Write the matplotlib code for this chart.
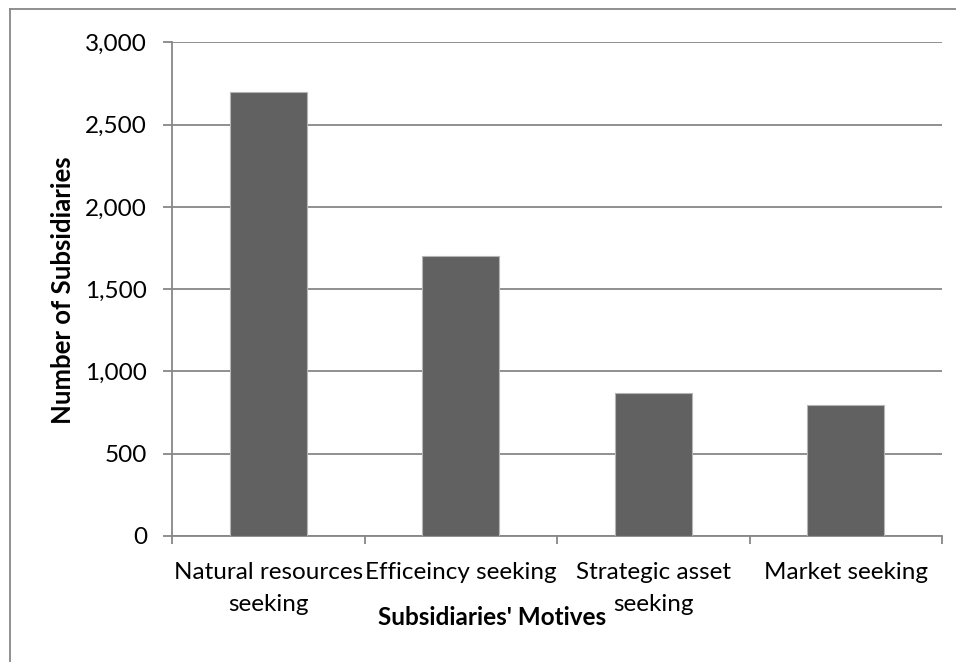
import matplotlib
matplotlib.use("Agg")
import matplotlib.pyplot as plt
from matplotlib.lines import Line2D
from matplotlib.ticker import FuncFormatter, FixedLocator

categories = ["Natural resources\nseeking", "Efficeincy seeking",
              "Strategic asset\nseeking", "Market seeking"]
subsidiaries = [2700, 1700, 870, 797]
y_ticks = [0, 500, 1000, 1500, 2000, 2500, 3000]

plt.rcParams["font.family"] = ["Lato", "DejaVu Sans"]

fig = plt.figure(figsize=(9.56, 6.62), dpi=100)
ax = fig.add_axes([172 / 956, 1 - 536 / 662, 770 / 956, (536 - 42.3) / 662])

grid_col = "#878787"
x = list(range(len(categories)))
ax.bar(x, subsidiaries, width=0.4, color="#616161", edgecolor="#b5b5b5",
       linewidth=0.8, zorder=3)

ax.set_xlim(-0.5, len(categories) - 0.5)
ax.set_ylim(0, 3000)
ax.yaxis.set_major_locator(FixedLocator(y_ticks))
ax.yaxis.set_major_formatter(FuncFormatter(lambda v, p: f"{int(v):,}"))
ax.grid(axis="y", color=grid_col, linewidth=1.3, zorder=0)

for s in ["top", "right"]:
    ax.spines[s].set_visible(False)
for s in ["left", "bottom"]:
    ax.spines[s].set_color(grid_col)
    ax.spines[s].set_linewidth(1.3)

# category labels centered under bars, ticks on category boundaries
ax.set_xticks(x)
ax.set_xticklabels(categories, fontsize=17.5, linespacing=1.6)
ax.tick_params(axis="x", length=0, pad=19)
ax.set_xticks([i - 0.5 for i in range(len(categories) + 1)], minor=True)
ax.tick_params(axis="x", which="minor", length=6, width=1.3, color=grid_col,
               direction="out")
ax.tick_params(axis="y", length=6.5, width=1.3, color=grid_col, labelsize=17.5,
               pad=11.5)

ax.set_ylabel("Number of Subsidiaries", fontsize=18.5, fontweight="bold")
ax.yaxis.set_label_coords(-0.141, 0.498)
ax.set_xlabel("Subsidiaries' Motives", fontsize=17.5, fontweight="bold")
ax.xaxis.set_label_coords(0.416, -0.166)
ax.xaxis.label.set_va("center")
ax.yaxis.label.set_va("center")

# outer chart frame (left and top edges)
fig.add_artist(Line2D([9.5 / 956, 9.5 / 956], [0, 1 - 9 / 662],
                      transform=fig.transFigure, color=grid_col, linewidth=1.3))
fig.add_artist(Line2D([9.5 / 956, 1], [1 - 9 / 662, 1 - 9 / 662],
                      transform=fig.transFigure, color=grid_col, linewidth=1.3))

fig.savefig("out.png", dpi=100)
